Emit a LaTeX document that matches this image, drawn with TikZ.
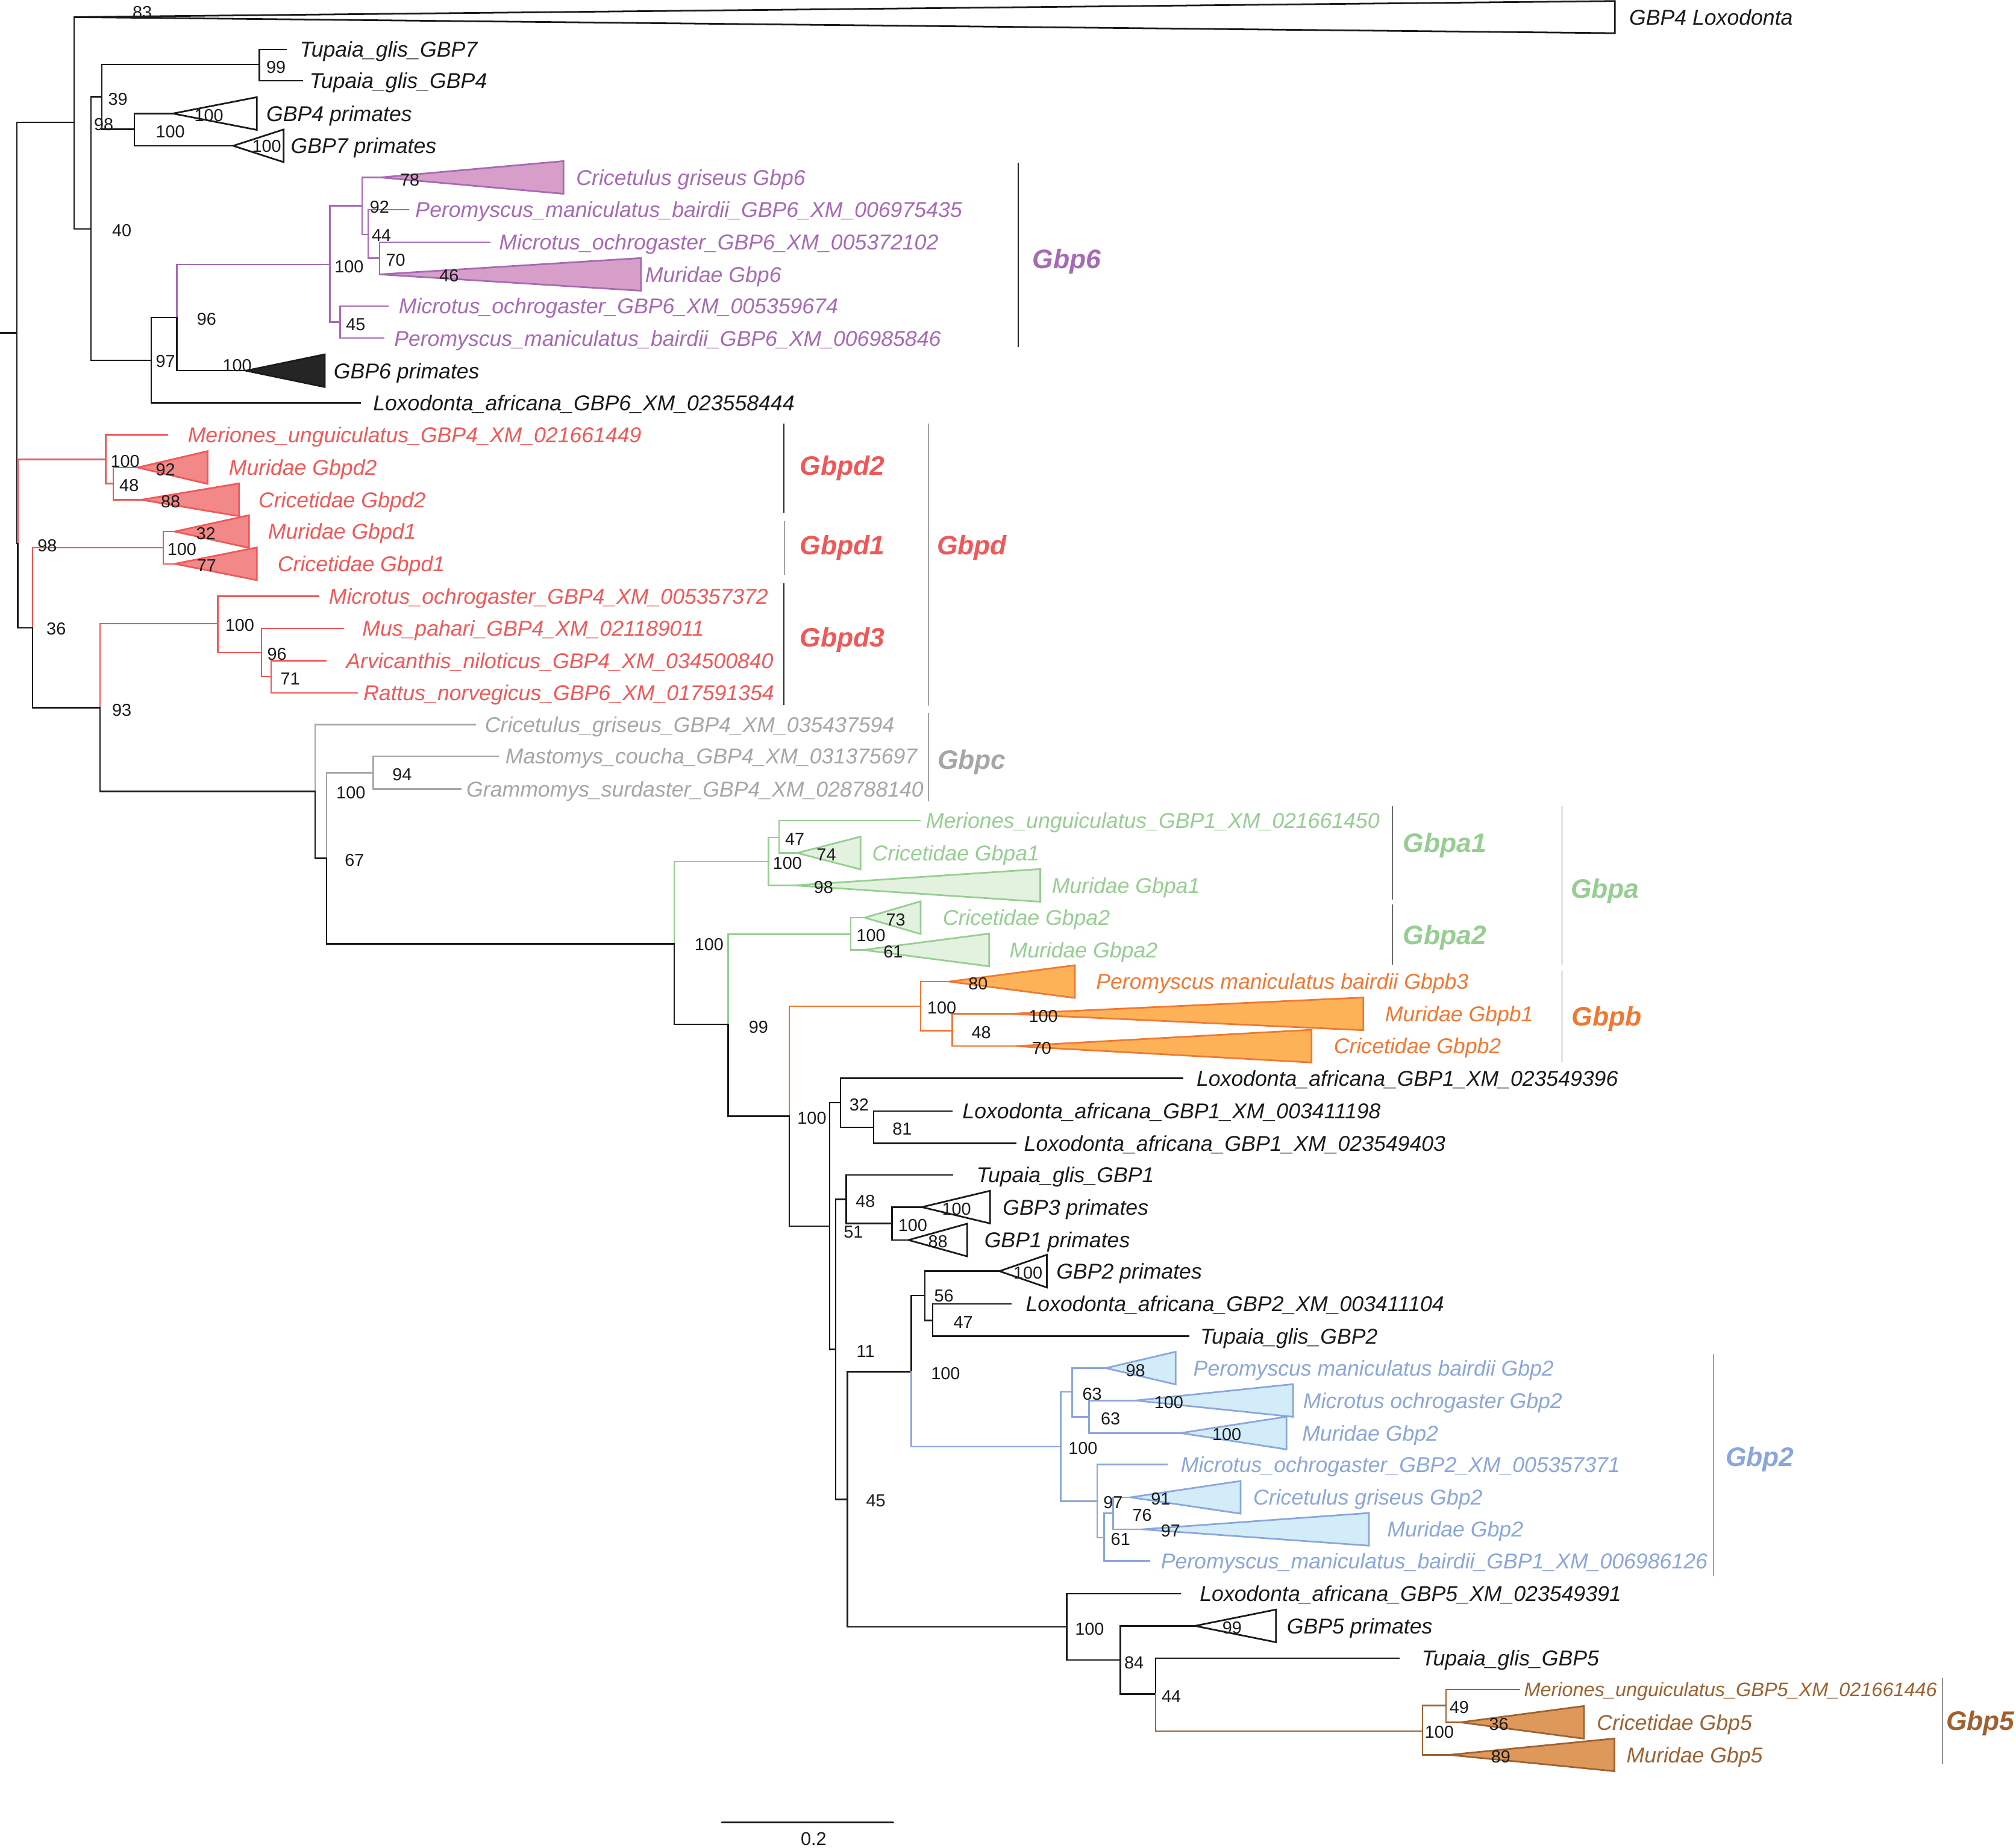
\documentclass[tikz,border=0pt]{standalone}
\usepackage{fontspec}
\setmainfont{Liberation Sans}
\definecolor{cblack}{RGB}{26,26,26}
\definecolor{cpurple}{RGB}{166,106,180}
\definecolor{fpurple}{RGB}{214,158,200}
\definecolor{cred}{RGB}{240,88,88}
\definecolor{fred}{RGB}{242,136,136}
\definecolor{cgray}{RGB}{166,166,166}
\definecolor{cgreen}{RGB}{150,206,145}
\definecolor{fgreen}{RGB}{226,242,222}
\definecolor{corange}{RGB}{240,120,50}
\definecolor{forange}{RGB}{253,178,88}
\definecolor{cblue}{RGB}{138,166,220}
\definecolor{fblue}{RGB}{210,236,248}
\definecolor{cbrown}{RGB}{158,98,48}
\definecolor{fbrown}{RGB}{221,152,90}
\definecolor{cbar}{RGB}{40,40,40}
\newcommand{\cladetri}[4]{\draw[#1, fill=#2, line width=1.3pt, line join=miter] (#3) -- ++(#4,-12.7) -- ++(0,25.4) -- cycle;}
\tikzset{
  br/.style={line width=1.15pt, line cap=rect, line join=miter},
  bk/.style={br, draw=cblack},
  pu/.style={br, draw=cpurple},
  rd/.style={br, draw=cred},
  gy/.style={br, draw=cgray},
  gn/.style={br, draw=cgreen},
  og/.style={br, draw=corange},
  bl/.style={br, draw=cblue},
  bn/.style={br, draw=cbrown},
  lf/.style={anchor=west, inner sep=0pt, text height=12pt, text depth=0pt, font=\fontsize{16.7}{18}\selectfont\itshape, text=cblack},
  bs/.style={anchor=west, inner sep=0pt, text height=9.7pt, text depth=0pt, font=\fontsize{13.5}{15}\selectfont, text=cblack},
  cl/.style={anchor=west, inner sep=0pt, text height=15pt, text depth=0pt, font=\fontsize{20.8}{22}\selectfont\bfseries\itshape},
  cbarline/.style={draw=cbar, line width=0.65pt},
}
\begin{document}
\begin{tikzpicture}[x=1pt,y=-1pt]
\useasboundingbox (0,0) rectangle (1568,1437);
\fill[white] (0,0) rectangle (1568,1437);

% ---------- tree node coordinates ----------
\coordinate (rs) at (0,259);
\coordinate (r0) at (13.2,259);
\coordinate (n57) at (57.7,95.2);
\coordinate (n14) at (13.8,422.8);
\coordinate (aLox) at (57.7,13.3);
\coordinate (n70) at (70.8,178.2);
\coordinate (n79) at (79.2,75.3);
\coordinate (n117) at (117.5,280.3);
\coordinate (n201) at (201.8,50.2);
\coordinate (eTup7) at (222.7,38.3);
\coordinate (eTup4) at (235.2,62.8);
\coordinate (n104) at (104.6,100.6);
\coordinate (aG4p) at (134.5,88.3);
\coordinate (aG7p) at (181.4,113.4);
\coordinate (n137) at (137.5,246.9);
\coordinate (eLox6) at (280,313.2);
\coordinate (n256) at (256.5,205.6);
\coordinate (aG6p) at (191.3,288.3);
\coordinate (n281) at (281.6,160);
\coordinate (n264) at (264.5,250.4);
\coordinate (aCri6) at (296,138);
\coordinate (n286) at (286.3,182.4);
\coordinate (ePer6a) at (317.8,163);
\coordinate (n295) at (295.3,200.8);
\coordinate (eMic6a) at (381,188.3);
\coordinate (aMur6) at (295.3,213.4);
\coordinate (eMic6b) at (301.9,238);
\coordinate (ePer6b) at (298.3,263);
\coordinate (n82) at (82.2,357.3);
\coordinate (n25) at (25.4,488.3);
\coordinate (eMer4) at (130,338.1);
\coordinate (n88) at (88.2,376.1);
\coordinate (aMurd2) at (107,363.6);
\coordinate (aCrid2) at (110,388.7);
\coordinate (n127) at (127,426);
\coordinate (n77) at (77.7,550.4);
\coordinate (aMurd1) at (136,413.4);
\coordinate (aCrid1) at (136,438.5);
\coordinate (n169) at (169.5,484.9);
\coordinate (n245) at (245,615.6);
\coordinate (eMic4) at (248,463.6);
\coordinate (n203) at (203.3,507.5);
\coordinate (eMus) at (267,488.7);
\coordinate (n211) at (211,526.3);
\coordinate (eArv) at (253.5,513.8);
\coordinate (eRat) at (278,538.9);
\coordinate (eCri4) at (369.8,563.6);
\coordinate (n254) at (254.1,667.6);
\coordinate (n290) at (290.3,601);
\coordinate (eMas) at (387.3,588.2);
\coordinate (eGra) at (358.3,613.7);
\coordinate (n524) at (524.3,734);
\coordinate (n597) at (597.7,670);
\coordinate (n566) at (566.4,796.6);
\coordinate (n605) at (605.9,651.3);
\coordinate (aMura1) at (618,688.6);
\coordinate (eMer1) at (715.4,638.2);
\coordinate (aCria1) at (620,663.4);
\coordinate (n661) at (661.8,726.6);
\coordinate (n614) at (614,868);
\coordinate (aCria2) at (672.6,713.7);
\coordinate (aMura2) at (671.6,738.8);
\coordinate (n716) at (716,782.6);
\coordinate (n645) at (645.3,953.6);
\coordinate (aPb3) at (738.4,763.4);
\coordinate (n740) at (740.7,801.6);
\coordinate (aMb1) at (785,788.5);
\coordinate (aCb2) at (790,813.6);
\coordinate (n653) at (653.6,857.6);
\coordinate (n650) at (650,1049.4);
\coordinate (eLox1a) at (920,838.5);
\coordinate (n679) at (679.4,876.8);
\coordinate (eLox1b) at (740.3,864);
\coordinate (eLox1c) at (789.8,889.1);
\coordinate (n658) at (658.2,932.7);
\coordinate (n659) at (659.1,1166.1);
\coordinate (eTup1) at (740.7,913.8);
\coordinate (n693) at (693.7,951.6);
\coordinate (aG3p) at (717,938.8);
\coordinate (aG1p) at (706.6,964.4);
\coordinate (n708) at (708.7,1066.8);
\coordinate (n829) at (829.6,1265.3);
\coordinate (n719) at (719.2,1007.5);
\coordinate (n825) at (825,1125.1);
\coordinate (aG2p) at (777.3,988.6);
\coordinate (n725) at (725.3,1026.9);
\coordinate (eLox2) at (786.2,1014.1);
\coordinate (eTup2) at (924.3,1039.1);
\coordinate (n833) at (833.9,1082.4);
\coordinate (n853) at (853.4,1167.6);
\coordinate (aPer2) at (860,1064);
\coordinate (n847) at (847.1,1102);
\coordinate (aMic2) at (883.3,1089.2);
\coordinate (aMur2a) at (918.2,1114.5);
\coordinate (eMic2) at (907.7,1139);
\coordinate (n858) at (858.8,1196);
\coordinate (n865) at (865.8,1176.9);
\coordinate (ePer1) at (893.8,1214);
\coordinate (aCri2) at (879.4,1164.5);
\coordinate (aMur2b) at (888.3,1189.4);
\coordinate (eLox5) at (918.1,1239.5);
\coordinate (n871) at (871.4,1291);
\coordinate (aG5p) at (929.4,1264.5);
\coordinate (n898) at (898.9,1317.6);
\coordinate (eTup5) at (1087.8,1289.5);
\coordinate (n1106) at (1106.5,1346.2);
\coordinate (n1124) at (1124.7,1326.5);
\coordinate (aMur5) at (1127.2,1364.8);
\coordinate (eMer5) at (1181.8,1314);
\coordinate (aCri5) at (1136,1339.5);

% ---------- branches ----------
\draw[bk] (rs) -- (r0);
\draw[bk] (r0) |- (n57);
\draw[bk] (r0) |- (n14);
\draw[rd] (n14) |- (n82);
\draw[bk] (n14) |- (n25);
\draw[bk] (n57) |- (aLox);
\draw[bk] (n57) |- (n70);
\draw[bk] (n70) |- (n79);
\draw[bk] (n70) |- (n117);
\draw[bk] (n79) |- (n201);
\draw[bk] (n79) |- (n104);
\draw[bk] (n201) |- (eTup7);
\draw[bk] (n201) |- (eTup4);
\draw[bk] (n104) |- (aG4p);
\draw[bk] (n104) |- (aG7p);
\draw[bk] (n117) |- (n137);
\draw[bk] (n117) |- (eLox6);
\draw[pu] (n137) |- (n256);
\draw[bk] (n137) |- (aG6p);
\draw[pu] (n256) |- (n281);
\draw[pu] (n256) |- (n264);
\draw[pu] (n281) |- (aCri6);
\draw[pu] (n281) |- (n286);
\draw[pu] (n286) |- (ePer6a);
\draw[pu] (n286) |- (n295);
\draw[pu] (n295) |- (eMic6a);
\draw[pu] (n295) |- (aMur6);
\draw[pu] (n264) |- (eMic6b);
\draw[pu] (n264) |- (ePer6b);
\draw[rd] (n82) |- (eMer4);
\draw[rd] (n82) |- (n88);
\draw[rd] (n88) |- (aMurd2);
\draw[rd] (n88) |- (aCrid2);
\draw[rd] (n25) |- (n127);
\draw[bk] (n25) |- (n77);
\draw[rd] (n127) |- (aMurd1);
\draw[rd] (n127) |- (aCrid1);
\draw[rd] (n77) |- (n169);
\draw[bk] (n77) |- (n245);
\draw[rd] (n169) |- (eMic4);
\draw[rd] (n169) |- (n203);
\draw[rd] (n203) |- (eMus);
\draw[rd] (n203) |- (n211);
\draw[rd] (n211) |- (eArv);
\draw[rd] (n211) |- (eRat);
\draw[gy] (n245) |- (eCri4);
\draw[bk] (n245) |- (n254);
\draw[gy] (n254) |- (n290);
\draw[bk] (n254) |- (n524);
\draw[gy] (n290) |- (eMas);
\draw[gy] (n290) |- (eGra);
\draw[gn] (n524) |- (n597);
\draw[bk] (n524) |- (n566);
\draw[gn] (n597) |- (n605);
\draw[gn] (n597) |- (aMura1);
\draw[gn] (n605) |- (eMer1);
\draw[gn] (n605) |- (aCria1);
\draw[gn] (n566) |- (n661);
\draw[bk] (n566) |- (n614);
\draw[gn] (n661) |- (aCria2);
\draw[gn] (n661) |- (aMura2);
\draw[og] (n614) |- (n716);
\draw[bk] (n614) |- (n645);
\draw[og] (n716) |- (aPb3);
\draw[og] (n716) |- (n740);
\draw[og] (n740) |- (aMb1);
\draw[og] (n740) |- (aCb2);
\draw[bk] (n645) |- (n653);
\draw[bk] (n645) |- (n650);
\draw[bk] (n653) |- (eLox1a);
\draw[bk] (n653) |- (n679);
\draw[bk] (n679) |- (eLox1b);
\draw[bk] (n679) |- (eLox1c);
\draw[bk] (n650) |- (n658);
\draw[bk] (n650) |- (n659);
\draw[bk] (n658) |- (eTup1);
\draw[bk] (n658) |- (n693);
\draw[bk] (n693) |- (aG3p);
\draw[bk] (n693) |- (aG1p);
\draw[bk] (n659) |- (n708);
\draw[bk] (n659) |- (n829);
\draw[bk] (n708) |- (n719);
\draw[bl] (n708) |- (n825);
\draw[bk] (n719) |- (aG2p);
\draw[bk] (n719) |- (n725);
\draw[bk] (n725) |- (eLox2);
\draw[bk] (n725) |- (eTup2);
\draw[bl] (n825) |- (n833);
\draw[bl] (n825) |- (n853);
\draw[bl] (n833) |- (aPer2);
\draw[bl] (n833) |- (n847);
\draw[bl] (n847) |- (aMic2);
\draw[bl] (n847) |- (aMur2a);
\draw[bl] (n853) |- (eMic2);
\draw[bl] (n853) |- (n858);
\draw[bl] (n858) |- (n865);
\draw[bl] (n858) |- (ePer1);
\draw[bl] (n865) |- (aCri2);
\draw[bl] (n865) |- (aMur2b);
\draw[bk] (n829) |- (eLox5);
\draw[bk] (n829) |- (n871);
\draw[bk] (n871) |- (aG5p);
\draw[bk] (n871) |- (n898);
\draw[bk] (n898) |- (eTup5);
\draw[bn] (n898) |- (n1106);
\draw[bn] (n1106) |- (n1124);
\draw[bn] (n1106) |- (aMur5);
\draw[bn] (n1124) |- (eMer5);
\draw[bn] (n1124) |- (aCri5);

% ---------- collapsed clades ----------
\draw[cblack, fill=white, line width=1.3pt, line join=miter] (aLox) -- ++(1198.3,-12.5) -- ++(0,25) -- cycle;
\cladetri{cblack}{white}{aG4p}{65.2}
\cladetri{cblack}{white}{aG7p}{39.2}
\cladetri{cpurple}{fpurple}{aCri6}{142.3}
\cladetri{cpurple}{fpurple}{aMur6}{203.2}
\cladetri{cblack}{cblack!95}{aG6p}{61.3}
\cladetri{cred}{fred}{aMurd2}{54.4}
\cladetri{cred}{fred}{aCrid2}{75.9}
\cladetri{cred}{fred}{aMurd1}{57.7}
\cladetri{cred}{fred}{aCrid1}{63.7}
\cladetri{cgreen}{fgreen}{aCria1}{49.3}
\cladetri{cgreen}{fgreen}{aMura1}{191}
\cladetri{cgreen}{fgreen}{aCria2}{43.4}
\cladetri{cgreen}{fgreen}{aMura2}{97.7}
\cladetri{corange}{forange}{aPb3}{97.6}
\cladetri{corange}{forange}{aMb1}{275.4}
\cladetri{corange}{forange}{aCb2}{230}
\cladetri{cblack}{white}{aG3p}{53.1}
\cladetri{cblack}{white}{aG1p}{45.6}
\cladetri{cblack}{white}{aG2p}{36.9}
\cladetri{cblue}{fblue}{aPer2}{54.4}
\cladetri{cblue}{fblue}{aMic2}{122.4}
\cladetri{cblue}{fblue}{aMur2a}{82.4}
\cladetri{cblue}{fblue}{aCri2}{85.5}
\cladetri{cblue}{fblue}{aMur2b}{176.4}
\cladetri{cblack}{white}{aG5p}{63}
\cladetri{cbrown}{fbrown}{aCri5}{96}
\cladetri{cbrown}{fbrown}{aMur5}{128.4}

% ---------- leaf labels ----------
\node[lf] (lLox4) at (1267,13.3) {GBP4 Loxodonta};
\node[lf] (lTup7) at (233,38.3) {Tupaia\_glis\_GBP7};
\node[lf] (lTup4) at (240.6,62.8) {Tupaia\_glis\_GBP4};
\node[lf] (lG4p) at (207,88.3) {GBP4 primates};
\node[lf] (lG7p) at (226,113.4) {GBP7 primates};
\node[lf] (lG6p) at (259.4,288.3) {GBP6 primates};
\node[lf] (lLox6) at (290,313.2) {Loxodonta\_africana\_GBP6\_XM\_023558444};
\node[lf] (lLox1a) at (930.5,838.5) {Loxodonta\_africana\_GBP1\_XM\_023549396};
\node[lf] (lLox1b) at (748.4,864) {Loxodonta\_africana\_GBP1\_XM\_003411198};
\node[lf] (lLox1c) at (796.3,889.1) {Loxodonta\_africana\_GBP1\_XM\_023549403};
\node[lf] (lTup1) at (759.4,913.8) {Tupaia\_glis\_GBP1};
\node[lf] (lG3p) at (779.8,938.8) {GBP3 primates};
\node[lf] (lG1p) at (765.4,964.4) {GBP1 primates};
\node[lf] (lG2p) at (821.4,988.6) {GBP2 primates};
\node[lf] (lLox2) at (797.7,1014.1) {Loxodonta\_africana\_GBP2\_XM\_003411104};
\node[lf] (lTup2) at (933.3,1039.1) {Tupaia\_glis\_GBP2};
\node[lf] (lLox5) at (933,1239.5) {Loxodonta\_africana\_GBP5\_XM\_023549391};
\node[lf] (lG5p) at (1000.7,1264.5) {GBP5 primates};
\node[lf] (lTup5) at (1105.5,1289.5) {Tupaia\_glis\_GBP5};

\node[lf, text=cpurple] (lCri6) at (448,138) {Cricetulus griseus Gbp6};
\node[lf, text=cpurple] (lPer6a) at (322.9,163) {Peromyscus\_maniculatus\_bairdii\_GBP6\_XM\_006975435};
\node[lf, text=cpurple] (lMic6a) at (388,188.3) {Microtus\_ochrogaster\_GBP6\_XM\_005372102};
\node[lf, text=cpurple] (lMur6) at (501.6,213.4) {Muridae Gbp6};
\node[lf, text=cpurple] (lMic6b) at (310,238) {Microtus\_ochrogaster\_GBP6\_XM\_005359674};
\node[lf, text=cpurple] (lPer6b) at (306.4,263) {Peromyscus\_maniculatus\_bairdii\_GBP6\_XM\_006985846};

\node[lf, text=cred] (lMer4) at (145.9,338.1) {Meriones\_unguiculatus\_GBP4\_XM\_021661449};
\node[lf, text=cred] (lMurd2) at (177.8,363.6) {Muridae Gbpd2};
\node[lf, text=cred] (lCrid2) at (200.9,388.7) {Cricetidae Gbpd2};
\node[lf, text=cred] (lMurd1) at (208.3,413.4) {Muridae Gbpd1};
\node[lf, text=cred] (lCrid1) at (215.8,438.5) {Cricetidae Gbpd1};
\node[lf, text=cred] (lMic4) at (255.6,463.6) {Microtus\_ochrogaster\_GBP4\_XM\_005357372};
\node[lf, text=cred] (lMus) at (281.6,488.7) {Mus\_pahari\_GBP4\_XM\_021189011};
\node[lf, text=cred] (lArv) at (269,513.8) {Arvicanthis\_niloticus\_GBP4\_XM\_034500840};
\node[lf, text=cred] (lRat) at (282.5,538.9) {Rattus\_norvegicus\_GBP6\_XM\_017591354};

\node[lf, text=cgray] (lCri4) at (377,563.6) {Cricetulus\_griseus\_GBP4\_XM\_035437594};
\node[lf, text=cgray] (lMas) at (392.9,588.2) {Mastomys\_coucha\_GBP4\_XM\_031375697};
\node[lf, text=cgray] (lGra) at (362.6,613.7) {Grammomys\_surdaster\_GBP4\_XM\_028788140};

\node[lf, text=cgreen] (lMer1) at (720,638.2) {Meriones\_unguiculatus\_GBP1\_XM\_021661450};
\node[lf, text=cgreen] (lCria1) at (678.2,663.4) {Cricetidae Gbpa1};
\node[lf, text=cgreen] (lMura1) at (817.9,688.6) {Muridae Gbpa1};
\node[lf, text=cgreen] (lCria2) at (733.1,713.7) {Cricetidae Gbpa2};
\node[lf, text=cgreen] (lMura2) at (785,738.8) {Muridae Gbpa2};

\node[lf, text=corange] (lPb3) at (852.4,763.4) {Peromyscus maniculatus bairdii Gbpb3};
\node[lf, text=corange] (lMb1) at (1077.1,788.5) {Muridae Gbpb1};
\node[lf, text=corange] (lCb2) at (1037.3,813.6) {Cricetidae Gbpb2};

\node[lf, text=cblue] (lPer2) at (928,1064) {Peromyscus maniculatus bairdii Gbp2};
\node[lf, text=cblue] (lMic2g) at (1013.4,1089.2) {Microtus ochrogaster Gbp2};
\node[lf, text=cblue] (lMur2a) at (1012.6,1114.5) {Muridae Gbp2};
\node[lf, text=cblue] (lMic2) at (918.2,1139) {Microtus\_ochrogaster\_GBP2\_XM\_005357371};
\node[lf, text=cblue] (lCri2) at (974.6,1164.5) {Cricetulus griseus Gbp2};
\node[lf, text=cblue] (lMur2b) at (1078.7,1189.4) {Muridae Gbp2};
\node[lf, text=cblue] (lPer1) at (902.7,1214) {Peromyscus\_maniculatus\_bairdii\_GBP1\_XM\_006986126};

\node[lf, text=cbrown, text height=10.9pt, font=\fontsize{15.2}{17}\selectfont\itshape] (lMer5) at (1185.2,1314) {Meriones\_unguiculatus\_GBP5\_XM\_021661446};
\node[lf, text=cbrown] (lCri5) at (1241.8,1339.5) {Cricetidae Gbp5};
\node[lf, text=cbrown] (lMur5) at (1264.9,1364.8) {Muridae Gbp5};

% ---------- clade brackets ----------
\draw[cbarline] (792,126.5) -- (792,269.9);
\draw[cbarline] (609.6,329.3) -- (609.6,398.7);
\draw[cbarline] (610,405.4) -- (610,446.9);
\draw[cbarline] (609.6,453.8) -- (609.6,548.3);
\draw[cbarline] (722,329.3) -- (722,548.9);
\draw[cbarline] (722,554.2) -- (722,623.2);
\draw[cbarline] (1083.3,627.2) -- (1083.3,699.5);
\draw[cbarline] (1083.3,703.4) -- (1083.3,750.1);
\draw[cbarline] (1215,627.2) -- (1215,750.1);
\draw[cbarline] (1215,754.8) -- (1215,826);
\draw[cbarline] (1333,1053) -- (1333,1226);
\draw[cbarline] (1511,1305) -- (1511,1372.3);

\node[cl, text=cpurple] (cGbp6) at (803,201.5) {Gbp6};
\node[cl, text=cred] (cGbpd2) at (622,362) {Gbpd2};
\node[cl, text=cred] (cGbpd1) at (622,424) {Gbpd1};
\node[cl, text=cred] (cGbpd3) at (622,495.4) {Gbpd3};
\node[cl, text=cred] (cGbpd) at (728.5,424) {Gbpd};
\node[cl, text=cgray] (cGbpc) at (729,590.8) {Gbpc};
\node[cl, text=cgreen] (cGbpa1) at (1091,655.3) {Gbpa1};
\node[cl, text=cgreen] (cGbpa2) at (1091,727.1) {Gbpa2};
\node[cl, text=cgreen] (cGbpa) at (1221.5,691.2) {Gbpa};
\node[cl, text=corange] (cGbpb) at (1222.3,790.4) {Gbpb};
\node[cl, text=cblue] (cGbp2) at (1342,1133) {Gbp2};
\node[cl, text=cbrown] (cGbp5) at (1513.5,1338) {Gbp5};

% ---------- bootstrap values ----------
\node[bs] (b01) at (103,9.4) {83};
\node[bs] (b02) at (207,52) {99};
\node[bs] (b03) at (84,77) {39};
\node[bs] (b04) at (73,96.6) {98};
\node[bs] (b05) at (151,89.5) {100};
\node[bs] (b06) at (121,102) {100};
\node[bs] (b07) at (196,113.6) {100};
\node[bs] (b08) at (87,179) {40};
\node[bs] (b09) at (311,139.7) {78};
\node[bs] (b10) at (287.5,161) {92};
\node[bs] (b11) at (289,183) {44};
\node[bs] (b12) at (300,202) {70};
\node[bs] (b13) at (341.6,214.4) {46};
\node[bs] (b14) at (260,207) {100};
\node[bs] (b15) at (269,252) {45};
\node[bs] (b16) at (153,248) {96};
\node[bs] (b17) at (121,281) {97};
\node[bs] (b18) at (173,284) {100};
\node[bs] (b19) at (85.8,358.6) {100};
\node[bs] (b20) at (121,364.9) {92};
\node[bs] (b21) at (92.7,377.4) {48};
\node[bs] (b22) at (125,390) {88};
\node[bs] (b23) at (152.4,414.9) {32};
\node[bs] (b24) at (130,427) {100};
\node[bs] (b25) at (153,439.5) {77};
\node[bs] (b26) at (29,424.3) {98};
\node[bs] (b27) at (175,486) {100};
\node[bs] (b28) at (207.7,508.6) {96};
\node[bs] (b29) at (218,527.8) {71};
\node[bs] (b30) at (36,489) {36};
\node[bs] (b31) at (87,551.9) {93};
\node[bs] (b32) at (305,602.2) {94};
\node[bs] (b33) at (261.4,616.2) {100};
\node[bs] (b34) at (268,668.8) {67};
\node[bs] (b35) at (610.5,652.3) {47};
\node[bs] (b36) at (635,664.7) {74};
\node[bs] (b37) at (601,671) {100};
\node[bs] (b38) at (632.8,689.8) {98};
\node[bs] (b39) at (689,715.3) {73};
\node[bs] (b40) at (666,727.5) {100};
\node[bs] (b41) at (687,740.1) {61};
\node[bs] (b42) at (540,734.6) {100};
\node[bs] (b43) at (753,764.8) {80};
\node[bs] (b44) at (721,783.5) {100};
\node[bs] (b45) at (755.5,802.9) {48};
\node[bs] (b46) at (800,790.3) {100};
\node[bs] (b47) at (802.5,815) {70};
\node[bs] (b48) at (582.2,798.4) {99};
\node[bs] (b49) at (620,869.2) {100};
\node[bs] (b50) at (660.5,859) {32};
\node[bs] (b51) at (694,878) {81};
\node[bs] (b52) at (665.4,933.9) {48};
\node[bs] (b53) at (656,957.9) {51};
\node[bs] (b54) at (698.4,952.9) {100};
\node[bs] (b55) at (732.5,940.1) {100};
\node[bs] (b56) at (721.7,965.6) {88};
\node[bs] (b57) at (788,990) {100};
\node[bs] (b58) at (726.4,1007.5) {56};
\node[bs] (b59) at (741.4,1028.1) {47};
\node[bs] (b60) at (666,1050.6) {11};
\node[bs] (b61) at (724,1067.9) {100};
\node[bs] (b62) at (875.5,1065.6) {98};
\node[bs] (b63) at (841.7,1084) {63};
\node[bs] (b64) at (897.6,1090.6) {100};
\node[bs] (b65) at (856,1103.1) {63};
\node[bs] (b66) at (942.7,1115.3) {100};
\node[bs] (b67) at (830.8,1126.2) {100};
\node[bs] (b68) at (858,1168.4) {97};
\node[bs] (b69) at (895,1165.5) {91};
\node[bs] (b70) at (880.6,1178) {76};
\node[bs] (b71) at (902.7,1190.5) {97};
\node[bs] (b72) at (863.8,1197) {61};
\node[bs] (b73) at (673.5,1166.8) {45};
\node[bs] (b74) at (836,1266.5) {100};
\node[bs] (b75) at (950.6,1266) {99};
\node[bs] (b76) at (874.3,1293) {84};
\node[bs] (b77) at (903.3,1319.2) {44};
\node[bs] (b78) at (1108,1346.8) {100};
\node[bs] (b79) at (1127.2,1327.7) {49};
\node[bs] (b80) at (1158,1341) {36};
\node[bs] (b81) at (1159.6,1366) {89};

% ---------- scale bar ----------
\coordinate (sbL) at (561.5,1417.3);
\coordinate (sbR) at (694.6,1417.3);
\draw[cblack, line width=1.5pt, line cap=round] (sbL) -- (sbR);
\node[anchor=center, inner sep=0pt, text height=10.3pt, text depth=0pt, font=\fontsize{14.4}{16}\selectfont, text=cblack] (sbT) at (632.8,1429.8) {0.2};
\end{tikzpicture}
\end{document}
